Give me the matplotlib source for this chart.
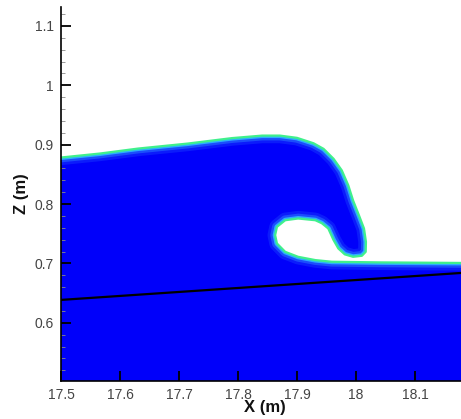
import matplotlib
matplotlib.use("Agg")
import matplotlib.pyplot as plt
from matplotlib.patches import Polygon
from matplotlib.ticker import MultipleLocator, FuncFormatter

plt.rcParams['font.family'] = ['Liberation Sans', 'DejaVu Sans']

# Free surface of the plunging breaker (x in m, z in m), from the left
# boundary over the crest, down the jet, round the tip, over the air
# cavity and out along the still-water level on the right.
surface_x = [17.500, 17.566, 17.631, 17.715, 17.790, 17.841, 17.871, 17.900,
             17.928, 17.945, 17.962, 17.976, 17.987, 17.995, 18.005,
             18.0136, 18.0169, 18.0165, 18.010, 17.995, 17.981, 17.970, 17.962,
             17.953, 17.942, 17.931, 17.902, 17.880, 17.866, 17.863, 17.866,
             17.880, 17.902, 17.931, 17.959, 18.041, 18.190]
surface_z = [0.8785, 0.8852, 0.8936, 0.9020, 0.9112, 0.9154, 0.9154, 0.9116,
             0.9025, 0.8931, 0.8763, 0.8567, 0.8315, 0.8064, 0.7812,
             0.7589, 0.7364, 0.7196, 0.7129, 0.7112, 0.7153, 0.7253, 0.7393,
             0.7589, 0.7678, 0.7728, 0.7757, 0.7728, 0.7616, 0.7477, 0.7337,
             0.7196, 0.7112, 0.7057, 0.7029, 0.7018, 0.7008]

# Sloping bed
bed_x = [17.50, 18.19]
bed_z = [0.6386, 0.6848]

x_ticks = [17.5, 17.6, 17.7, 17.8, 17.9, 18.0, 18.1]
z_ticks = [0.6, 0.7, 0.8, 0.9, 1.0, 1.1]
x_limits = (17.5, 18.178)
z_limits = (0.502, 1.132)

water_blue = '#0000fa'

fig = plt.figure(figsize=(4.61, 4.19), dpi=100)
ax = fig.add_axes([61 / 461, 38 / 419, 400 / 461, 374 / 419])
ax.set_xlim(*x_limits)
ax.set_ylim(*z_limits)

# Water body: free surface closed along the bottom of the domain
poly_xy = list(zip(surface_x, surface_z))
poly_xy += [(surface_x[-1], z_limits[0] - 0.05), (surface_x[0] - 0.01, z_limits[0] - 0.05),
            (surface_x[0] - 0.01, surface_z[0])]
water = Polygon(poly_xy, closed=True, facecolor=water_blue, edgecolor='none', zorder=1)
ax.add_patch(water)

# Smeared interface (volume-fraction transition), kept inside the water
for lw, col, a in [(11, '#2050ff', 0.35), (7, '#2a78ff', 0.55), (3.6, '#30c0ff', 0.85)]:
    ln, = ax.plot(surface_x, surface_z, color=col, lw=lw, alpha=a,
                  solid_capstyle='butt', solid_joinstyle='round', zorder=2)
    ln.set_clip_path(water)
ax.plot(surface_x, surface_z, color='#40f08c', lw=1.6, solid_joinstyle='round', zorder=3)

# Bed line
ax.plot(bed_x, bed_z, color='black', lw=1.6, zorder=4)

# Axes styling
for side in ('top', 'right'):
    ax.spines[side].set_visible(False)
for side in ('left', 'bottom'):
    ax.spines[side].set_linewidth(1.2)
    ax.spines[side].set_color('black')
    ax.spines[side].set_zorder(6)

ax.set_xticks(x_ticks)
ax.set_yticks(z_ticks)
fmt = FuncFormatter(lambda v, p: f'{v:g}')
ax.xaxis.set_major_formatter(fmt)
ax.yaxis.set_major_formatter(fmt)
ax.yaxis.set_minor_locator(MultipleLocator(0.02))
ax.tick_params(which='major', direction='in', length=7, width=1.3, color='black',
               labelsize=10, labelcolor='#444444', pad=5)
ax.tick_params(axis='y', which='minor', direction='in', length=3, width=0.6, color='#888888')
ax.tick_params(axis='x', which='minor', length=0)
ax.tick_params(zorder=7)

ax.set_xlabel('X (m)', fontsize=12, fontweight='bold', color='#111111')
ax.set_ylabel('Z (m)', fontsize=12, fontweight='bold', color='#111111', labelpad=4)
ax.xaxis.set_label_coords((265 - 61) / 400, -0.052)

fig.savefig('out.png', dpi=100, facecolor='white')
